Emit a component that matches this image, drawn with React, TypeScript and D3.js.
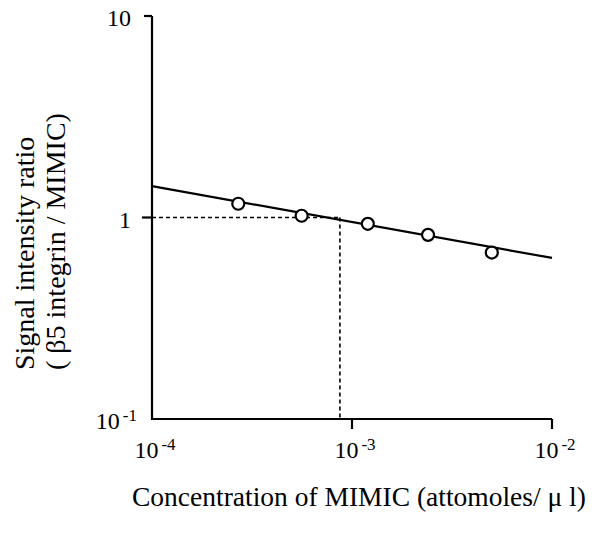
import React from 'react';
import * as d3 from 'd3';

// measured points (open circles)
const concentrations = [2.7e-4, 5.6e-4, 1.2e-3, 2.4e-3, 5.0e-3];
const ratios = [1.17, 1.02, 0.93, 0.82, 0.67];

// regression line end points
const fitX = [1e-4, 1e-2];
const fitY = [1.43, 0.63];

// where the fit crosses ratio = 1
const crossX = 8.7e-4;
const crossY = 1;

const xTicks = [1e-4, 1e-3, 1e-2];
const xTickExp = ['-4', '-3', '-2'];
const yTicks = [10, 1, 0.1];
const yTickBase = ['10', '1', '10'];
const yTickExp = ['', '', '-1'];

const FONT = '"Liberation Serif", "Times New Roman", serif';

const App = () => {
  const x = d3.scaleLog().domain([1e-4, 1e-2]).range([152, 552]);
  const y = d3.scaleLog().domain([0.1, 10]).range([419, 16]);

  const line = d3.line<number>()
    .x((d) => x(fitX[d]))
    .y((d) => y(fitY[d]));

  const x0 = x(1e-4);
  const yBottom = y(0.1);

  return (
    <svg width={599} height={533} style={{ position: 'absolute', left: 0, top: 0, background: '#fff' }}
      fontFamily={FONT}>
      {/* dashed guide lines */}
      <line x1={x0} x2={x(crossX)} y1={y(crossY)} y2={y(crossY)}
        stroke="#000" strokeWidth={1.6} strokeDasharray="4,3" />
      <line x1={x(crossX)} x2={x(crossX)} y1={y(crossY)} y2={yBottom}
        stroke="#000" strokeWidth={1.6} strokeDasharray="4,3" />

      {/* axes */}
      <path d={`M${x0},${y(10)}V${yBottom}H${x(1e-2)}`} fill="none" stroke="#000" strokeWidth={2.2} />
      {yTicks.slice(0, 2).map((t, i) => (
        <line key={'yt' + i} x1={x0 - (i === 0 ? 8 : 10)} x2={x0} y1={y(t)} y2={y(t)} stroke="#000" strokeWidth={2.2} />
      ))}
      {xTicks.slice(1).map((t, i) => (
        <line key={'xt' + i} x1={x(t)} x2={x(t)} y1={yBottom} y2={yBottom + 10} stroke="#000" strokeWidth={2.2} />
      ))}

      {/* tick labels */}
      {yTicks.map((t, i) => (
        <text key={'yl' + i} x={yTickExp[i] ? 137 : 131} y={y(t) + 10} textAnchor="end" fontSize={24}>
          {yTickBase[i]}
          {yTickExp[i] && <tspan fontSize={17} dy={-8} dx={3}>{yTickExp[i]}</tspan>}
        </text>
      ))}
      {xTicks.map((t, i) => (
        <text key={'xl' + i} x={x(t) + 3} y={458} textAnchor="middle" fontSize={24}>
          10<tspan fontSize={17} dy={-8} dx={3}>{xTickExp[i]}</tspan>
        </text>
      ))}

      {/* fit line */}
      <path d={line([0, 1]) || ''} fill="none" stroke="#000" strokeWidth={2.2} />

      {/* points */}
      {concentrations.map((c, i) => (
        <circle key={'p' + i} cx={x(c)} cy={y(ratios[i])} r={6} fill="#fff" stroke="#000" strokeWidth={2.2} />
      ))}

      {/* axis titles */}
      <text x={132} y={506} fontSize={27.5}>Concentration of MIMIC (attomoles/ μ l)</text>
      <text transform="translate(34,370) rotate(-90)" fontSize={28}>Signal intensity ratio</text>
      <text transform="translate(65,370) rotate(-90)" fontSize={28}>( β5 integrin / MIMIC)</text>
    </svg>
  );
};

export default App;
